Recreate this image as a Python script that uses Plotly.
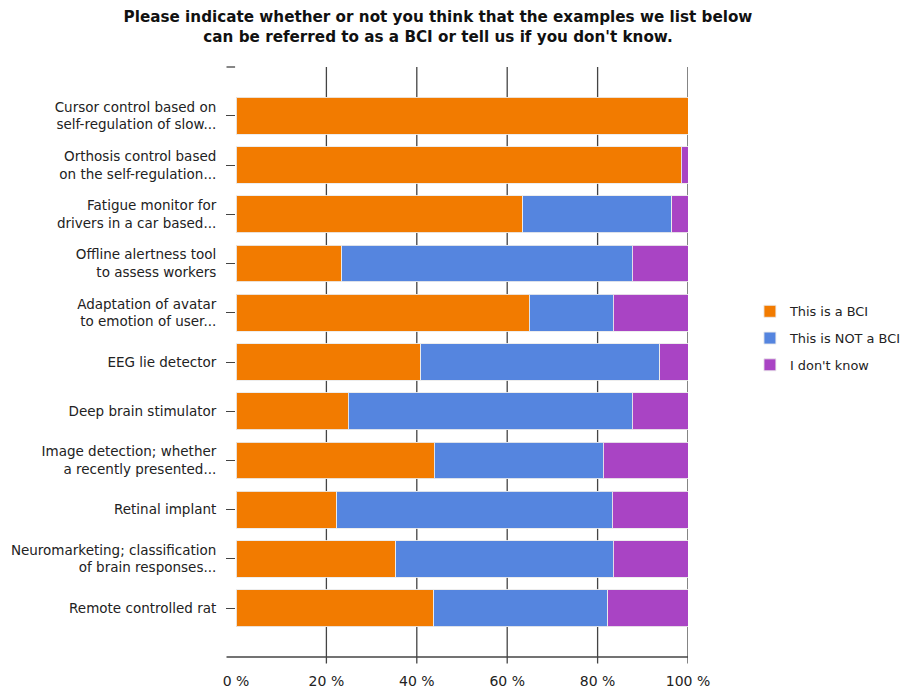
import plotly.graph_objects as go

categories = [
    "Cursor control based on<br>self-regulation of slow...",
    "Orthosis control based<br>on the self-regulation...",
    "Fatigue monitor for<br>drivers in a car based...",
    "Offline alertness tool<br>to assess workers",
    "Adaptation of avatar<br>to emotion of user...",
    "EEG lie detector",
    "Deep brain stimulator",
    "Image detection; whether<br>a recently presented...",
    "Retinal implant",
    "Neuromarketing; classification<br>of brain responses...",
    "Remote controlled rat",
]
series_names = ["This is a BCI", "This is NOT a BCI", "I don't know"]
is_bci = [100.0, 98.5, 63.4, 23.4, 64.9, 40.9, 24.8, 43.9, 22.3, 35.3, 43.7]
not_bci = [0.0, 0.0, 33.0, 64.3, 18.6, 52.8, 62.9, 37.4, 60.9, 48.2, 38.5]
dont_know = [0.0, 1.5, 3.6, 12.3, 16.5, 6.3, 12.3, 18.7, 16.8, 16.5, 17.8]
x_ticks = [0, 20, 40, 60, 80, 100]
x_tick_labels = ["0 %", "20 %", "40 %", "60 %", "80 %", "100 %"]

colors = ["#F27B00", "#5585DF", "#A944C4"]
values = [is_bci, not_bci, dont_know]

FONT = "DejaVu Sans, Verdana, sans-serif"

fig = go.Figure()
for i, (name, vals, col) in enumerate(zip(series_names, values, colors)):
    fig.add_trace(go.Bar(
        y=categories, x=vals, name=name, orientation="h", legendgroup=f"g{i}",
        marker=dict(color=col, line=dict(color="rgba(235,235,235,0.9)", width=1)),
    ))

shapes = []
for v in x_ticks[1:]:
    shapes.append(dict(type="line", xref="x", yref="paper", x0=v, x1=v, y0=-0.011, y1=1,
                       line=dict(color="#444", width=1.3), layer="below"))
# bottom axis line extended left and top tick
shapes.append(dict(type="line", xref="paper", yref="paper", x0=-0.021, x1=1.0, y0=0, y1=0,
                   line=dict(color="#444", width=1.3)))
shapes.append(dict(type="line", xref="paper", yref="paper", x0=-0.021, x1=-0.002, y0=1, y1=1,
                   line=dict(color="#444", width=1.3)))

fig.update_layout(
    width=913, height=681,
    margin=dict(l=228, r=233, t=59, b=32),
    paper_bgcolor="white", plot_bgcolor="white",
    barmode="stack", bargap=0.25,
    font=dict(family=FONT, size=13.5, color="#222"),
    title=dict(
        text="<b>Please indicate whether or not you think that the examples we list below<br>can be referred to as a BCI or tell us if you don't know.</b>",
        x=0.471, xref="container", xanchor="center",
        y=0.979, yref="container", yanchor="top",
        font=dict(size=15.2, color="#111", family=FONT),
    ),
    xaxis=dict(range=[0, 100], tickvals=x_ticks, ticktext=x_tick_labels, showgrid=False,
               zeroline=False, showline=False, ticks="outside", ticklen=6,
               tickcolor="rgba(0,0,0,0)", ticklabelstandoff=5, automargin=False,
               tickfont=dict(size=14, color="#222"), fixedrange=True),
    yaxis=dict(categoryorder="array", categoryarray=categories, range=[10.99, -0.99],
               ticks="outside", ticklen=9, tickwidth=1.3, tickcolor="#444",
               ticklabelstandoff=7, automargin=False,
               showgrid=False, zeroline=False, showline=False,
               tickfont=dict(size=13.5, color="#222")),
    legend=dict(x=1.137, y=0.54, xanchor="left", yanchor="middle",
                traceorder="grouped", font=dict(size=12.9, color="#222"),
                itemclick=False, tracegroupgap=7),
    shapes=shapes,
    showlegend=True,
)

fig.write_html("out.html")
